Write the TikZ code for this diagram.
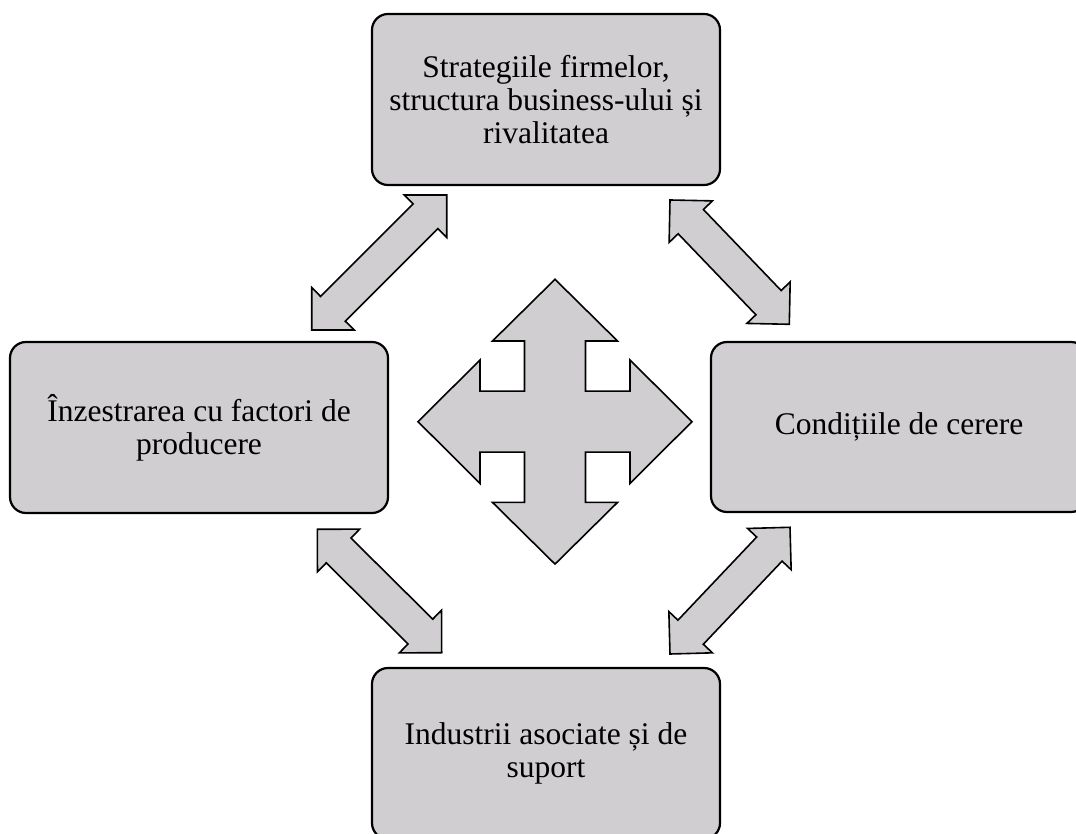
\documentclass[tikz,border=0pt]{standalone}
\usepackage{fontspec}
\setmainfont{Liberation Serif}
\usetikzlibrary{calc}
\definecolor{boxgray}{RGB}{208,206,209}
\tikzset{
  factorbox/.style={draw=black, line width=2.2pt, fill=boxgray, rounded corners=16pt,
    align=center, font=\fontsize{31.5}{33}\selectfont, inner sep=0pt},
  barrow/.style={draw=black, line width=1.6pt, fill=boxgray, line join=miter},
}
% double block arrow between two tips
\newcommand\dblblock[2]{%
  \draw[barrow] (#1) -- ($(#1)!42.43pt!45:(#2)$) -- ($(#1)!34.73pt!30.26:(#2)$)
    -- ($(#2)!34.73pt!-30.26:(#1)$) -- ($(#2)!42.43pt!-45:(#1)$) -- (#2)
    -- ($(#2)!42.43pt!45:(#1)$) -- ($(#2)!34.73pt!30.26:(#1)$)
    -- ($(#1)!34.73pt!-30.26:(#2)$) -- ($(#1)!42.43pt!-45:(#2)$) -- cycle;}
\begin{document}
\begin{tikzpicture}[x=1pt,y=1pt]
\useasboundingbox (0,0) rectangle (1076,833);
\clip (0,0) rectangle (1076,833);
% boxes
\node[factorbox, minimum width=348pt, minimum height=171pt] (strat) at (546,733.5)
  {Strategiile firmelor,\\structura business-ului și\\rivalitatea};
\node[factorbox, minimum width=378pt, minimum height=171pt] (inzes) at (199,405.5)
  {Înzestrarea cu factori de\\producere};
\node[factorbox, minimum width=376pt, minimum height=170pt] (cond) at (899,406)
  {Condițiile de cerere};
\node[factorbox, minimum width=348pt, minimum height=171pt] (indus) at (546,79.5)
  {Industrii asociate și de\\suport};
% arrow tips
\coordinate (ulA) at (311.7,503);   \coordinate (ulB) at (446.7,638);
\coordinate (urA) at (670,633);     \coordinate (urB) at (789.3,508.7);
\coordinate (llA) at (317.3,303.7); \coordinate (llB) at (441.7,180.3);
\coordinate (lrA) at (670,179);     \coordinate (lrB) at (790,305.7);
\dblblock{ulA}{ulB}
\dblblock{urA}{urB}
\dblblock{llA}{llB}
\dblblock{lrA}{lrB}
% central four-way arrow
\coordinate (ctr) at (555,411.3);
\draw[barrow, shift={(ctr)}]
  (0,142.4) -- (62.5,80.7) -- (30.5,80.7) -- (30.5,30.5) -- (75,30.5) -- (75,61.7)
  -- (137,0) -- (75,-61.7) -- (75,-30.5) -- (30.5,-30.5) -- (30.5,-80.7) -- (62.5,-80.7)
  -- (0,-142.4) -- (-62.5,-80.7) -- (-30.5,-80.7) -- (-30.5,-30.5) -- (-75,-30.5) -- (-75,-61.7)
  -- (-137,0) -- (-75,61.7) -- (-75,30.5) -- (-30.5,30.5) -- (-30.5,80.7) -- (-62.5,80.7) -- cycle;
\end{tikzpicture}
\end{document}
